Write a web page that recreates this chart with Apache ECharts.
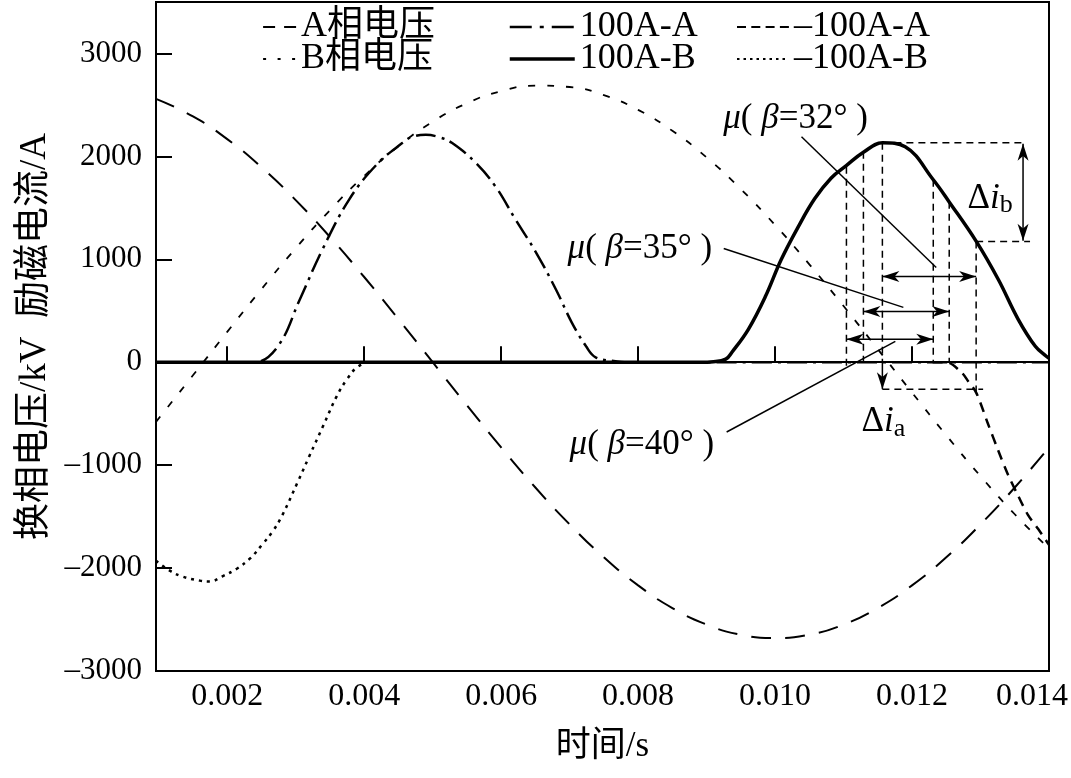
<!DOCTYPE html>
<html><head><meta charset="utf-8">
<script src="https://cdn.jsdelivr.net/npm/echarts@6/dist/echarts.min.js"></script>
<style>html,body{margin:0;padding:0;background:#fff}#c{width:1071px;height:778px}</style>
</head><body><div id="c"></div>
<script>
// ---------------- data ----------------
const seriesNames = ['A相电压', 'B相电压', '100A-A', '100A-B', '–100A-A', '–100A-B'];

const tVolt = [0.00096,0.0015,0.002,0.0025,0.003,0.0035,0.004,0.0045,0.005,0.0055,0.006,0.0065,0.007,0.0075,0.008,0.0085,0.009,0.0095,0.010,0.0105,0.011,0.0115,0.012,0.0125,0.013,0.0135,0.014];
const voltA = [2559,2388,2168,1895,1575,1217,828,419,0,-419,-828,-1217,-1575,-1895,-2168,-2388,-2549,-2647,-2680,-2647,-2549,-2388,-2168,-1895,-1575,-1217,-828];
const voltB = [-579,-127,295,710,1107,1477,1810,2099,2337,2516,2634,2687,2674,2595,2452,2248,1990,1682,1333,951,546,127,-295,-710,-1107,-1477,-1810];

const tPosA = [0.00096,0.0023,0.0024,0.00274,0.00306,0.00339,0.00378,0.00418,0.00456,0.0047,0.0049,0.0051,0.00528,0.00563,0.00592,0.00621,0.00651,0.0068,0.00703,0.00724,0.00738,0.00767,0.0078,0.014];
const curPosA = [0,0,0,155,610,1095,1580,1919,2132,2190,2209,2185,2132,1938,1705,1386,1066,707,388,155,48,10,0,0];

const tPosB = [0.00096,0.0089,0.0091,0.00928,0.00937,0.00961,0.00986,0.01009,0.01034,0.01058,0.01082,0.01104,0.01129,0.01157,0.0119,0.01231,0.01254,0.01294,0.01326,0.01355,0.0138,0.01396,0.014];
const curPosB = [0,0,5,30,97,320,640,998,1318,1590,1790,1910,2040,2132,2093,1773,1560,1172,804,417,155,58,40];

const tNegA = [0.0123,0.0125,0.01272,0.01282,0.01294,0.01311,0.01326,0.0134,0.01355,0.01369,0.01384,0.01396,0.014];
const curNegA = [0,0,-97,-184,-300,-600,-860,-1090,-1298,-1480,-1618,-1734,-1775];

const tNegB = [0.00096,0.00116,0.00135,0.0016,0.00175,0.00193,0.00214,0.00233,0.00252,0.00266,0.0028,0.00303,0.0032,0.0034,0.0036,0.00375,0.0039,0.0041,0.009];
const curNegB = [-1928,-2025,-2083,-2122,-2130,-2080,-2006,-1909,-1764,-1647,-1492,-1163,-911,-620,-329,-165,-48,0,0];

const xTicks = [0.002,0.004,0.006,0.008,0.010,0.012,0.014];
const yTicks = [-3000,-2000,-1000,0,1000,2000,3000];

// annotation geometry in data coordinates (time, value)
const guideT      = [0.011042, 0.011290, 0.011567, 0.012310, 0.012543, 0.012936];
const guideTop    = [1899, 2045, 2132, 1773, 1560, 1172];
const guideBottom = [-39, 0, 0, 0, 0, -300];
const muArrows = [[0.011567, 0.012936, 833], [0.011290, 0.012543, 494], [0.011042, 0.012310, 223]];
const hDashed  = [[0.011567, 0.013665, 2132], [0.012936, 0.013723, 1172], [0.011567, 0.013038, -262]];
const leaders  = [[0.010386, 2190, 0.012353, 921], [0.009250, 1105, 0.011873, 533], [0.009293, -678, 0.011756, 203]];
const muLabels = [['32', 0.010299, 2364], ['35', 0.008026, 1105], ['40', 0.008055, -800]];
const dIbArrow = [0.013621, 2122, 1180];
const dIaArrow = [0.011567, 0, -262];
const dIbLabel = [0.013141, 1590];
const dIaLabel = [0.011582, -581];

// ---------------- chart ----------------
const FONT = '"Liberation Serif","Times New Roman","Noto Sans CJK SC",serif';
const zip = (a, b) => a.map((t, i) => [t, b[i]]);

const chart = echarts.init(document.getElementById('c'), null, {renderer: 'canvas'});

function mkSeries(name, data, lineStyle, smooth, z) {
  return {
    name, type: 'line', data, symbol: 'none', showSymbol: false,
    smooth: smooth, z: z,
    lineStyle: Object.assign({color: '#000'}, lineStyle),
    itemStyle: {color: '#000'},
    emphasis: {disabled: true}, animation: false
  };
}

const legTxt = {fontFamily: FONT, fontSize: 36, color: '#000'};
function mkLegend(left, w, items) {
  return {left, top: 9, orient: 'vertical', itemGap: -4, itemWidth: w, itemHeight: 14,
          padding: 0, selectedMode: false, textStyle: legTxt,
          itemStyle: {opacity: 0, color: 'rgba(0,0,0,0)', borderWidth: 0},
          data: items};
}

chart.setOption({
  animation: false,
  backgroundColor: '#fff',
  grid: {left: 156, right: 20, top: 2, bottom: 107, show: true, borderColor: '#000', borderWidth: 2, backgroundColor: 'transparent'},
  legend: [
    mkLegend(262, 33, [{name: seriesNames[0], lineStyle: {type: [12, 9], width: 2.2}}, {name: seriesNames[1], lineStyle: {type: [3, 11.5], width: 2.2}}]),
    mkLegend(508, 65, [{name: seriesNames[2], lineStyle: {type: [22, 8, 4, 8], width: 2.5}}, {name: seriesNames[3], lineStyle: {width: 3.5}}]),
    mkLegend(736, 52, [{name: seriesNames[4], lineStyle: {type: [9, 5.3], width: 2}}, {name: seriesNames[5], lineStyle: {type: [2.5, 4], width: 2}}])
  ],
  xAxis: {
    type: 'value', min: 0.00096, max: 0.014,
    name: '时间/s', nameLocation: 'middle', nameGap: 58,
    nameTextStyle: {fontFamily: FONT, fontSize: 35, color: '#000'},
    axisLine: {show: true, lineStyle: {color: '#000', width: 2}},
    axisTick: {show: true, inside: true, length: 16, lineStyle: {color: '#000', width: 2}, customValues: xTicks},
    axisLabel: {
      customValues: xTicks, margin: 10, color: '#000', fontFamily: FONT, fontSize: 32,
      formatter: v => v > 0.0139 ? '{r|0.014}' : v.toFixed(3),
      rich: {r: {fontFamily: FONT, fontSize: 32, color: '#000', padding: [0, 34, 0, 0]}}
    },
    splitLine: {show: false}
  },
  yAxis: {
    type: 'value', min: -3000, max: 3500,
    name: '换相电压/kV  励磁电流/A', nameLocation: 'middle', nameGap: 100, nameRotate: 90,
    nameTextStyle: {fontFamily: FONT, fontSize: 37, color: '#000'},
    axisLine: {show: true, lineStyle: {color: '#000', width: 2}},
    axisTick: {show: true, inside: true, length: 16, lineStyle: {color: '#000', width: 2}, customValues: yTicks},
    axisLabel: {
      customValues: yTicks, margin: 14, color: '#000', fontFamily: FONT, fontSize: 31,
      formatter: v => v < 0 ? '–' + Math.abs(v) : String(v)
    },
    splitLine: {show: false}
  },
  series: [
    mkSeries(seriesNames[0], zip(tVolt, voltA), {width: 2, type: [20, 14]}, true, 2),
    mkSeries(seriesNames[1], zip(tVolt, voltB), {width: 1.8, type: [7, 12]}, true, 2),
    mkSeries(seriesNames[5], zip(tNegB, curNegB), {width: 2.5, type: [3, 5]}, 0.4, 3),
    mkSeries(seriesNames[4], zip(tNegA, curNegA), {width: 2.5, type: [10, 7]}, 0.3, 3),
    mkSeries(seriesNames[2], zip(tPosA, curPosA), {width: 2.5, type: [20, 6, 3, 6]}, 0.4, 4),
    mkSeries(seriesNames[3], zip(tPosB, curPosB), {width: 3.5, type: 'solid'}, 0.4, 5)
  ]
});

// ---------------- annotations (positioned through the axes) ----------------
const P = (t, v) => chart.convertToPixel({xAxisIndex: 0, yAxisIndex: 0}, [t, v]);
const els = [];
function seg(p1, p2, dash, w) {
  els.push({type: 'line', z: 100, silent: true,
    shape: {x1: p1[0], y1: p1[1], x2: p2[0], y2: p2[1]},
    style: {stroke: '#000', lineWidth: w || 1.5, lineDash: dash || null}});
}
function head(tip, from) {
  const dx = tip[0] - from[0], dy = tip[1] - from[1];
  const L = Math.hypot(dx, dy), ux = dx / L, uy = dy / L;
  const len = 17, hw = 5.5, nx = -uy, ny = ux;
  const bx = tip[0] - ux * len, by = tip[1] - uy * len;
  const notch = [tip[0] - ux * len * 0.72, tip[1] - uy * len * 0.72];
  els.push({type: 'polygon', z: 101, silent: true,
    shape: {points: [tip, [bx + nx * hw, by + ny * hw], notch, [bx - nx * hw, by - ny * hw]]},
    style: {fill: '#000'}});
}
const DASH = [7, 5];
guideT.forEach((t, i) => seg(P(t, guideTop[i]), P(t, guideBottom[i]), DASH, 1.5));
hDashed.forEach(h => seg(P(h[0], h[2]), P(h[1], h[2]), DASH, 1.5));
muArrows.forEach(a => {
  const p1 = P(a[0], a[2]), p2 = P(a[1], a[2]);
  seg(p1, p2, null, 1.5); head(p1, p2); head(p2, p1);
});
leaders.forEach(l => seg(P(l[0], l[1]), P(l[2], l[3]), null, 1.5));
{
  const p1 = P(dIbArrow[0], dIbArrow[1]), p2 = P(dIbArrow[0], dIbArrow[2]);
  seg(p1, p2, null, 1.5); head(p1, p2); head(p2, p1);
  const q1 = P(dIaArrow[0], dIaArrow[1]), q2 = P(dIaArrow[0], dIaArrow[2]);
  seg(q1, q2, null, 1.5); head(q2, q1);
}
const rich = {
  n: {fontFamily: FONT, fontSize: 35, fill: '#000', color: '#000'},
  i: {fontFamily: FONT, fontSize: 35, fontStyle: 'italic', fill: '#000', color: '#000'},
  s: {fontFamily: FONT, fontSize: 26, fill: '#000', color: '#000', verticalAlign: 'bottom', padding: [14, 0, 0, 0]}
};
function txt(t, v, str) {
  const p = P(t, v);
  els.push({type: 'text', z: 102, silent: true, x: p[0], y: p[1],
    style: {text: str, rich: rich, fontFamily: FONT, fontSize: 35, fill: '#000',
            align: 'center', verticalAlign: 'middle', textAlign: 'center', textVerticalAlign: 'middle'}});
}
muLabels.forEach(m => txt(m[1], m[2], '{i|μ}{n|( }{i|β}{n|=' + m[0] + '° )}'));
txt(dIbLabel[0], dIbLabel[1], '{n|Δ}{i|i}{s|b}');
txt(dIaLabel[0], dIaLabel[1], '{n|Δ}{i|i}{s|a}');

chart.setOption({graphic: {elements: els}});
</script>
</body></html>
